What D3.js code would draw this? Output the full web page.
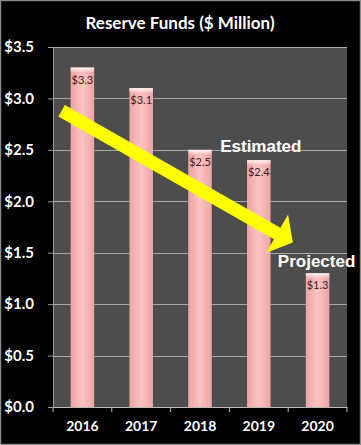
<!DOCTYPE html>
<html><head><meta charset="utf-8">
<script src="https://cdn.jsdelivr.net/npm/d3@7"></script>
<style>html,body{margin:0;padding:0;background:#000;}svg{display:block;}</style>
</head><body>
<script>
const years = ["2016","2017","2018","2019","2020"];
const values = [3.3, 3.1, 2.5, 2.4, 1.3];
const yTicks = [0, 0.5, 1.0, 1.5, 2.0, 2.5, 3.0, 3.5];
const title = "Reserve Funds ($ Million)";
const notes = [{text:"Estimated", x:"2019", y:2.48, dx:2}, {text:"Projected", x:"2020", y:1.36, dx:-1}];
const arrowFrom = {x:"2016", y:2.88}, arrowTo = {x:"2020", y:1.6};

const W = 361, H = 445;
const m = {left:53, right:14, top:47, bottom:38};
const svg = d3.select("body").append("svg").attr("width", W).attr("height", H);
svg.append("rect").attr("x",0.5).attr("y",0.5).attr("width",W-1).attr("height",H-1)
  .attr("fill","#000").attr("stroke","#8a8a8a").attr("stroke-width",1.5);

const x = d3.scaleBand().domain(years).range([m.left, W-m.right]).paddingInner(0.6).paddingOuter(0.3);
const xb = d3.scaleBand().domain(years).range([m.left, W-m.right]);
const y = d3.scaleLinear().domain([0,3.5]).range([H-m.bottom, m.top]);

const defs = svg.append("defs");
const g = defs.append("linearGradient").attr("id","bar").attr("x1","0").attr("x2","1").attr("y1","0").attr("y2","0");
g.append("stop").attr("offset","0%").attr("stop-color","#eda4a4");
g.append("stop").attr("offset","50%").attr("stop-color","#fbc3c3");
g.append("stop").attr("offset","100%").attr("stop-color","#eda4a4");
const gt = defs.append("linearGradient").attr("id","cap").attr("x1","0").attr("x2","0").attr("y1","0").attr("y2","1");
gt.append("stop").attr("offset","0%").attr("stop-color","#ffffff").attr("stop-opacity",0.9);
gt.append("stop").attr("offset","100%").attr("stop-color","#ffffff").attr("stop-opacity",0);

// plot area
svg.append("rect").attr("x",m.left).attr("y",m.top).attr("width",W-m.right-m.left).attr("height",H-m.bottom-m.top).attr("fill","#4d4d4d");

// gridlines
svg.append("g").selectAll("line").data(yTicks.slice(1)).join("line")
  .attr("x1",m.left).attr("x2",W-m.right).attr("y1",d=>Math.round(y(d))+0.5).attr("y2",d=>Math.round(y(d))+0.5)
  .attr("stroke","#a8a8a8").attr("stroke-width",1);

// y axis
const ya = svg.append("g").attr("transform",`translate(${m.left},0)`)
  .call(d3.axisLeft(y).tickValues(yTicks).tickSize(5).tickPadding(14).tickFormat(d=>"$"+d3.format(".1f")(d)));
ya.select(".domain").attr("stroke","#9a9a9a");
ya.selectAll(".tick line").attr("stroke","#9a9a9a");
ya.selectAll("text").attr("fill","#fff").attr("font-family","Lato, 'Open Sans', sans-serif").attr("font-weight","bold").attr("font-size","15px");

// x axis
const xa = svg.append("g").attr("transform",`translate(0,${H-m.bottom})`)
  .call(d3.axisBottom(xb).tickSize(0).tickPadding(14));
xa.select(".domain").attr("stroke","#bbbbbb");
xa.selectAll("text").attr("fill","#fff").attr("font-family","Lato, 'Open Sans', sans-serif").attr("font-weight","bold").attr("font-size","14px");
svg.append("g").selectAll("line").data(years.concat(["end"])).join("line")
  .attr("x1",(d,i)=>i<years.length?xb(d):W-m.right).attr("x2",(d,i)=>i<years.length?xb(d):W-m.right)
  .attr("y1",H-m.bottom).attr("y2",H-m.bottom+5).attr("stroke","#bbbbbb");

// bars
const bars = svg.append("g").selectAll("g").data(years).join("g");
bars.append("rect").attr("x",d=>x(d)).attr("width",x.bandwidth())
  .attr("y",(d,i)=>y(values[i])).attr("height",(d,i)=>y(0)-y(values[i])).attr("fill","url(#bar)");
bars.append("rect").attr("x",d=>x(d)).attr("width",x.bandwidth())
  .attr("y",(d,i)=>y(values[i])).attr("height",5).attr("fill","url(#cap)");
bars.append("text").attr("x",d=>x(d)+x.bandwidth()/2).attr("y",(d,i)=>y(values[i])+16)
  .attr("text-anchor","middle").attr("fill","#3a2020").attr("font-family","Lato, 'Open Sans', sans-serif")
  .attr("font-size","11px").text((d,i)=>"$"+values[i].toFixed(1));

// arrow
const x0 = x(arrowFrom.x)-9, y0 = y(arrowFrom.y);
const x1 = x(arrowTo.x)-13, y1 = y(arrowTo.y);
const dx = x1-x0, dy = y1-y0, L = Math.hypot(dx,dy), ux = dx/L, uy = dy/L, px = -uy, py = ux;
const hl = 18, hw = 22, sw = 6.5;
const bx = x1 - ux*hl, by = y1 - uy*hl;
const pts = [[x0+px*sw,y0+py*sw],[bx+px*sw,by+py*sw],[bx+px*hw,by+py*hw],[x1,y1],[bx-px*hw,by-py*hw],[bx-px*sw,by-py*sw],[x0-px*sw,y0-py*sw]];
svg.append("polygon").attr("points",pts.map(p=>p.join(",")).join(" ")).attr("fill","#ffff00");

// notes
svg.append("g").selectAll("text").data(notes).join("text")
  .attr("x",d=>xb(d.x)+xb.bandwidth()/2+d.dx).attr("y",d=>y(d.y))
  .attr("text-anchor","middle").attr("fill","#fff").attr("font-family","'Liberation Sans', Arial, sans-serif")
  .attr("font-weight","bold").attr("font-size","17px").text(d=>d.text);

// title
svg.append("text").attr("x",180).attr("y",29).attr("text-anchor","middle").attr("fill","#fff")
  .attr("font-family","Lato, 'Open Sans', sans-serif").attr("font-weight","bold").attr("font-size","17px").text(title);
</script>
</body></html>
